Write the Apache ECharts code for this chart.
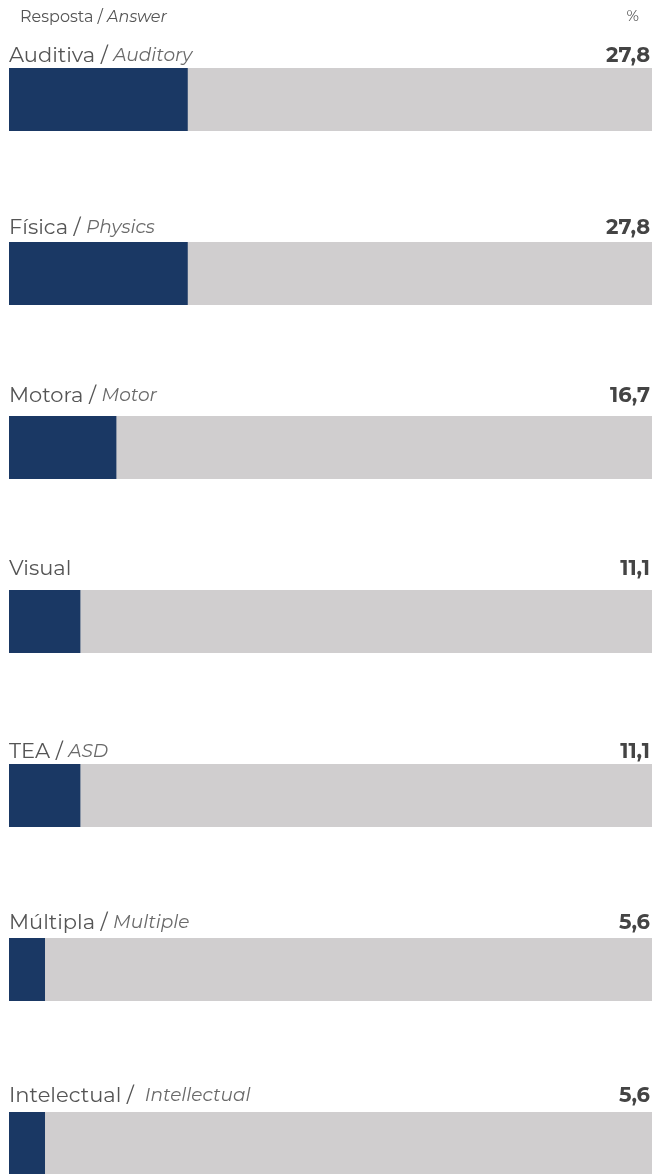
<!DOCTYPE html>
<html>
<head>
    <meta charset="utf-8" />
    <title>Resposta / Answer</title>
    <script src="https://cdn.jsdelivr.net/npm/echarts@6/dist/echarts.min.js"></script>
    <style>
        html, body { margin: 0; padding: 0; background: #fff; }
        #chart { width: 654px; height: 1174px; }
    </style>
</head>
<body>
    <div id="chart"></div>
    <script type="text/javascript">
        var namesPt = ['Auditiva', 'Física', 'Motora', 'Visual', 'TEA', 'Múltipla', 'Intelectual'];
        var namesEn = ['Auditory', 'Physics', 'Motor', '', 'ASD', 'Multiple', 'Intellectual'];
        var values = [27.8, 27.8, 16.7, 11.1, 11.1, 5.6, 5.6];
        var fullScale = [100, 100, 100, 100, 100, 100, 100];

        var font = "Montserrat, Inter, 'Noto Sans', sans-serif";
        // how far above each bar its caption sits (the source spacing is uneven)
        var labelLift = [12, 14, 20, 21, 12, 15, 16];
        var chart = echarts.init(document.getElementById('chart'));

        function fmt(v) {
            return v.toFixed(1).replace('.', ',');
        }

        var bgData = fullScale.map(function (v, i) {
            return { value: v, label: { position: [0, -labelLift[i]] } };
        });
        var valueLabelData = fullScale.map(function (v, i) {
            return { value: v, label: { position: ['100%', -labelLift[i]] } };
        });

        var option = {
            animation: false,
            // categories sit on points (boundaryGap false) so bars are 174px apart
            grid: { left: 9, right: 2, top: 99.5, bottom: 30.5 },
            xAxis: { type: 'value', min: 0, max: 100, show: false },
            yAxis: { type: 'category', data: namesPt, inverse: true, boundaryGap: false, show: false },
            graphic: [
                {
                    type: 'text', left: 20, top: 9,
                    style: {
                        text: '{a|Resposta / }{b|Answer}',
                        rich: {
                            a: { fontSize: 16, fontFamily: font, fill: '#555' },
                            b: { fontSize: 16, fontFamily: font, fontStyle: 'italic', fill: '#555' }
                        }
                    }
                },
                {
                    type: 'text', right: 15, top: 9,
                    style: { text: '%', fontSize: 15, fontFamily: font, fill: '#555' }
                }
            ],
            series: [
                {
                    name: 'bg', type: 'bar', data: bgData, barWidth: 63, barGap: '-100%',
                    silent: true, itemStyle: { color: '#d0cecf' },
                    label: {
                        show: true, align: 'left', verticalAlign: 'middle',
                        formatter: function (p) {
                            var en = namesEn[p.dataIndex];
                            var sep = p.dataIndex === 6 ? ' /  ' : ' / ';
                            return en ? '{a|' + namesPt[p.dataIndex] + sep + '}{b|' + en + '}' : '{a|' + namesPt[p.dataIndex] + '}';
                        },
                        rich: {
                            a: { fontSize: 21, fontFamily: font, color: '#555' },
                            b: { fontSize: 18.5, fontFamily: font, fontStyle: 'italic', color: '#6a6a6a' }
                        }
                    }
                },
                {
                    name: 'value', type: 'bar', data: values, barWidth: 63,
                    itemStyle: { color: '#1a3864' }
                },
                {
                    name: 'valueLabel', type: 'bar', data: valueLabelData, barWidth: 63, silent: true,
                    itemStyle: { color: 'rgba(0,0,0,0)' },
                    label: {
                        show: true, offset: [-2, 0], align: 'right', verticalAlign: 'middle',
                        formatter: function (p) { return fmt(values[p.dataIndex]); },
                        fontSize: 21, fontWeight: 'bold', fontFamily: font, color: '#444'
                    }
                }
            ]
        };
        chart.setOption(option);
    </script>
</body>
</html>
